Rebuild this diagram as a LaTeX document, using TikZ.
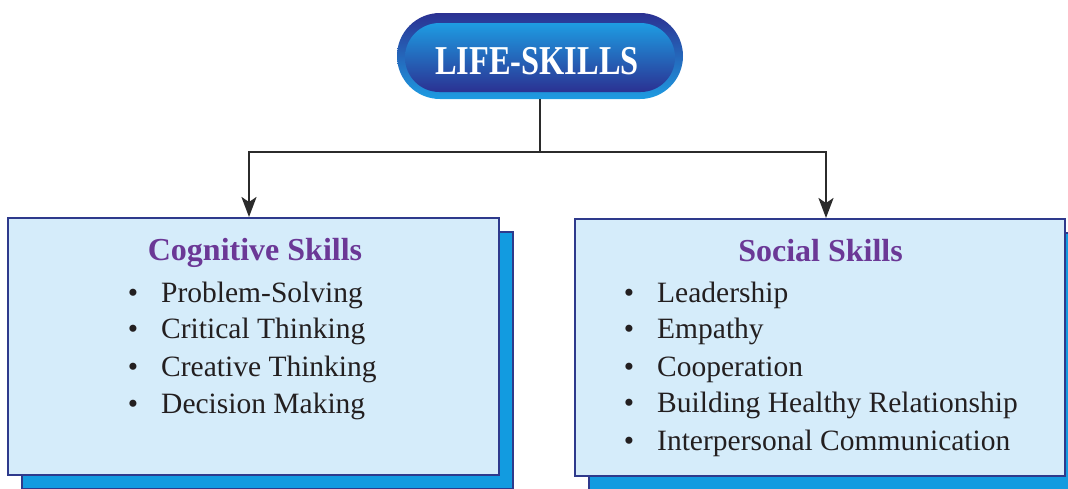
\documentclass[tikz,border=0pt]{standalone}
\usepackage{fontspec}
\setmainfont{Liberation Serif}
\newfontfamily\condbold[FakeStretch=0.79]{Liberation Serif}
\usetikzlibrary{arrows.meta}
\definecolor{navy}{HTML}{2E3A8C}
\definecolor{pillnavy}{HTML}{2B3192}
\definecolor{pillblue}{HTML}{1E9CE2}
\definecolor{boxfill}{HTML}{D5ECFA}
\definecolor{shadowblue}{HTML}{129BE0}
\definecolor{titlepurple}{HTML}{6B3896}
\definecolor{txt}{HTML}{231F20}
\definecolor{conncol}{HTML}{2B2B2B}
\tikzset{
  box/.style={draw=navy, line width=2pt, fill=boxfill, minimum width=491pt, minimum height=257pt, inner sep=0pt},
  shadowbox/.style={draw=navy, line width=2pt, fill=shadowblue, minimum width=491pt, minimum height=257pt, inner sep=0pt},
  conn/.style={draw=conncol, line width=2.5pt},
  arr/.style={conn, -{Stealth[length=20pt,width=15pt,inset=5pt]}},
  heading/.style={text=titlepurple, font=\fontsize{32}{32}\selectfont\bfseries, anchor=base, inner sep=0pt},
  item/.style={text=txt, font=\fontsize{29.5}{30}\selectfont, anchor=base west, inner sep=0pt},
  bul/.style={text=txt, font=\fontsize{29.5}{30}\selectfont, anchor=base, inner sep=0pt}
}
\begin{document}
\begin{tikzpicture}[x=1pt,y=-1pt]
\useasboundingbox (0,0) rectangle (1068,488);
% top pill
\node[minimum width=286pt, minimum height=86pt, rounded corners=43pt, top color=pillnavy, bottom color=pillblue, inner sep=0pt] (life) at (540,56) {};
\node[minimum width=270pt, minimum height=69pt, rounded corners=34.5pt, top color=pillblue, bottom color=pillnavy, inner sep=0pt] (lifein) at (540,57.5) {};
\node[text=white, font=\fontsize{41}{41}\selectfont\condbold\bfseries, anchor=base, inner sep=0pt] (lifetxt) at (537,74) {LIFE-SKILLS};
% shadows and boxes
\node[shadowbox] (cogsh) at (267.5,360.5) {};
\node[box] (cog) at (253.5,346.5) {};
\node[shadowbox, minimum width=490pt] (socsh) at (834,361.5) {};
\node[box, minimum width=490pt] (soc) at (820,347.5) {};
% connectors
\coordinate (j) at (538,152);
\draw[conn] (life.south) -- (life.south |- j);
\draw[arr] (life.south |- j) -| ([xshift=-4.5pt]cog.north);
\draw[arr] (life.south |- j) -| ([xshift=6pt]soc.north);
% left content
\node[heading] (cogt) at (255,260) {Cognitive Skills};
\node[bul] (cb1) at (133,302) {•};
\node[item] (ci1) at (161,302) {Problem-Solving};
\node[bul] (cb2) at (133,338) {•};
\node[item] (ci2) at (161,338) {Critical Thinking};
\node[bul] (cb3) at (133,376) {•};
\node[item] (ci3) at (161,376) {Creative Thinking};
\node[bul] (cb4) at (133,413) {•};
\node[item] (ci4) at (161,413) {Decision Making};
% right content
\node[heading] (soct) at (820.5,261) {Social Skills};
\node[bul] (sb1) at (629,302) {•};
\node[item] (si1) at (657,302) {Leadership};
\node[bul] (sb2) at (629,338) {•};
\node[item] (si2) at (657,338) {Empathy};
\node[bul] (sb3) at (629,376) {•};
\node[item] (si3) at (657,376) {Cooperation};
\node[bul] (sb4) at (629,412) {•};
\node[item] (si4) at (657,412) {Building Healthy Relationship};
\node[bul] (sb5) at (629,450) {•};
\node[item] (si5) at (657,450) {Interpersonal Communication};
\end{tikzpicture}
\end{document}
